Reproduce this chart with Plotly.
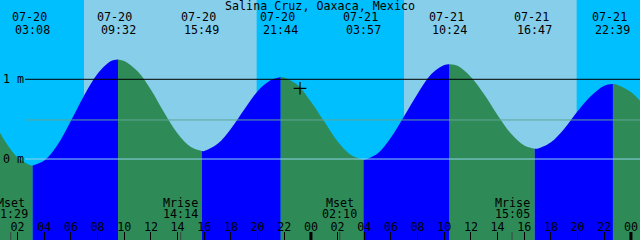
import plotly.graph_objects as go

# ---------------- data ----------------
station = "Salina Cruz, Oaxaca, Mexico"
x_start, x_end = 0.68, 48.68          # hours since 07-20 00:00

# tide extremes (high / low) shown at the top
event_dates = ["07-20", "07-20", "07-20", "07-20", "07-21", "07-21", "07-21", "07-21"]
event_times = ["03:08", "09:32", "15:49", "21:44", "03:57", "10:24", "16:47", "22:39"]
event_heights = [-0.08, 1.25, 0.10, 1.03, -0.01, 1.19, 0.13, 0.94]

# curve samples (hour, height in m)
sample_hours = [0.68, 1, 2, 3, 4, 5, 6, 7, 8, 9, 10, 11, 12, 13, 14, 15, 16, 17, 18, 19,
                20, 21, 22, 23, 24, 25, 26, 27, 28, 29, 30, 31, 32, 33, 34, 35, 36, 37, 38,
                39, 40, 41, 42, 43, 44, 45, 46, 47, 48, 48.68]
sample_heights = [0.33, 0.24, 0.02, -0.08, -0.02, 0.18, 0.48, 0.80, 1.07, 1.23, 1.23, 1.10,
                  0.87, 0.58, 0.32, 0.15, 0.10, 0.19, 0.38, 0.62, 0.85, 0.99, 1.02, 0.93,
                  0.72, 0.47, 0.22, 0.05, -0.01, 0.07, 0.27, 0.54, 0.82, 1.06, 1.18, 1.17,
                  1.03, 0.81, 0.55, 0.32, 0.17, 0.13, 0.21, 0.38, 0.60, 0.79, 0.92, 0.93,
                  0.84, 0.73]

# sun (day / night background)
sunrise_hours = [6.98, 30.98]
sunset_hours = [19.93, 43.93]

# moon events
moon_names = ["Mset", "Mrise", "Mset", "Mrise"]
moon_times = ["01:29", "14:14", "02:10", "15:05"]
moon_day = [0, 0, 1, 1]

# datum lines
datum_levels = [1.0, 0.49, 0.0]
datum_labels = ["1 m", "", "0 m"]

# current-time marker
now_hour, now_height = 23.18, 0.887

# hour ticks
tick_hours = list(range(2, 49, 2))
tick_text = ["%02d" % (h % 24) for h in tick_hours]
midnight_hours = [24, 48]

# ---------------- style ----------------
NIGHT = "#00BFFF"
DAY = "#87CEEB"
RISE = "#0000FF"
FALL = "#2E8B57"
FONT = "DejaVu Sans Mono"
FS = 11.7
H = 240.0
ymin, ymax = -1.016, 1.995


def hhmm(s):
    h, m = s.split(":")
    return int(h) + int(m) / 60.0


event_hours = [hhmm(t) + (24 if d == "07-21" else 0) for d, t in zip(event_dates, event_times)]
moon_hours = [hhmm(t) + 24 * d for t, d in zip(moon_times, moon_day)]

pts = sorted(list(zip(sample_hours, sample_heights)) + list(zip(event_hours, event_heights)))

fig = go.Figure()

bounds = [x_start] + event_hours + [x_end]
for a, b in zip(bounds[:-1], bounds[1:]):
    seg = [(t, h) for t, h in pts if a - 1e-9 <= t <= b + 1e-9]
    xs = [p[0] for p in seg]
    ys = [p[1] for p in seg]
    color = RISE if ys[-1] > ys[0] else FALL
    fig.add_trace(go.Scatter(x=[a, b], y=[-1.3, -1.3], mode="lines",
                             line=dict(width=0, color=color), hoverinfo="skip",
                             showlegend=False))
    fig.add_trace(go.Scatter(x=xs, y=ys, mode="lines", line=dict(width=0, color=color, shape="spline"),
                             fill="tonexty", fillcolor=color, hoverinfo="skip", showlegend=False))

fig.add_trace(go.Scatter(x=[now_hour], y=[now_height], mode="markers",
                         marker=dict(symbol="cross-thin", size=9, line=dict(width=1.2, color="black")),
                         hoverinfo="skip", showlegend=False))

shapes = []
for r, s in zip(sunrise_hours, sunset_hours):
    shapes.append(dict(type="rect", xref="x", yref="paper", x0=r, x1=s, y0=0, y1=1,
                       fillcolor=DAY, line=dict(width=0), layer="below"))
datum_colors = ["black", "#5FA594", "#8FD3EC"]
for lvl, c in zip(datum_levels, datum_colors):
    shapes.append(dict(type="line", xref="paper", yref="y", x0=25 / 640, x1=1, y0=lvl, y1=lvl,
                       line=dict(color=c, width=1)))
for m in midnight_hours:
    shapes.append(dict(type="line", xref="x", yref="paper", x0=m, x1=m, y0=0, y1=8 / H,
                       line=dict(color="black", width=3)))
for m in moon_hours:
    shapes.append(dict(type="line", xref="x", yref="paper", x0=m, x1=m, y0=0, y1=8 / H,
                       line=dict(color="#404040", width=1)))

ann = []
for d, t, hr in zip(event_dates, event_times, event_hours):
    ann.append(dict(x=hr, xref="x", y=1 - 17.5 / H, yref="paper", text=d, showarrow=False,
                    xshift=-3.5, yanchor="middle", font=dict(family=FONT, size=FS, color="black")))
    ann.append(dict(x=hr, xref="x", y=1 - 29.5 / H, yref="paper", text=t, showarrow=False,
                    yanchor="middle", font=dict(family=FONT, size=FS, color="black")))
for n, t, hr in zip(moon_names, moon_times, moon_hours):
    ann.append(dict(x=hr, xref="x", y=1 - 202.5 / H, yref="paper", text=n, showarrow=False,
                    yanchor="middle", font=dict(family=FONT, size=FS, color="black")))
    ann.append(dict(x=hr, xref="x", y=1 - 213.5 / H, yref="paper", text=t, showarrow=False,
                    yanchor="middle", font=dict(family=FONT, size=FS, color="black")))
for lvl, lab in zip(datum_levels, datum_labels):
    if lab:
        ann.append(dict(x=1 / 640, xref="paper", y=lvl, yref="y", text=lab, showarrow=False,
                        xanchor="left", yanchor="middle", font=dict(family=FONT, size=FS, color="black")))

fig.update_layout(
    width=640, height=240, autosize=False,
    margin=dict(l=0, r=0, t=0, b=0, pad=0),
    paper_bgcolor=NIGHT, plot_bgcolor=NIGHT,
    shapes=shapes, annotations=ann,
    title=dict(text=station, x=0.5, xanchor="center", y=1 - 5.5 / H, yanchor="middle",
               font=dict(family=FONT, size=FS, color="black")),
    xaxis=dict(range=[x_start, x_end], showgrid=False, zeroline=False, showline=False,
               tickmode="array", tickvals=tick_hours, ticktext=tick_text,
               ticks="inside", ticklen=8, tickwidth=1, tickcolor="black",
               ticklabelposition="inside", ticklabeloverflow="allow", ticklabelstandoff=-2,
               tickfont=dict(family=FONT, size=FS, color="black"), fixedrange=True),
    yaxis=dict(range=[ymin, ymax], visible=False, fixedrange=True),
    showlegend=False,
)

fig.write_html("out.html")
